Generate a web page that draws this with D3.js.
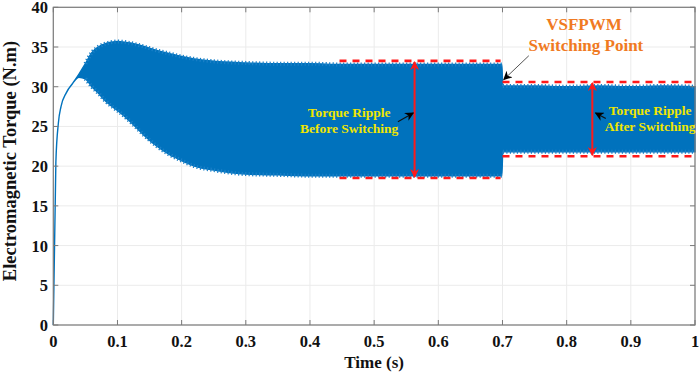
<!DOCTYPE html>
<html><head><meta charset="utf-8">
<script src="https://cdn.jsdelivr.net/npm/d3@7"></script>
<style>body{margin:0;background:#fff;}</style></head>
<body><svg id="c" width="699" height="375"></svg>
<script>
// ---- data ----
const timeS = [0,0.004,0.008,0.012,0.02,0.03,0.04,0.05,0.06,0.07,0.08,0.09,0.1,0.12,0.14,0.16,0.18,0.2,0.22,0.25,0.3,0.35,0.4,0.45,0.5,0.55,0.6,0.65,0.699,0.7005,0.75,0.8,0.85,0.9,0.95,1.0];
const torqueUpper = [0,20.5,25.5,27.5,29.2,30.4,31.6,32.9,34.3,35.0,35.4,35.6,35.7,35.5,35.1,34.6,34.2,33.8,33.5,33.2,33.0,32.9,32.9,32.8,32.8,32.8,32.8,32.8,32.8,30.1,30.1,30.0,30.1,30.0,30.1,30.0];
const torqueLower = [0,20.5,25.5,27.5,29.2,30.4,31.2,31.0,30.0,29.2,28.3,27.6,27.0,25.6,24.0,22.6,21.5,20.7,20.0,19.5,19.0,18.9,18.8,18.8,18.8,18.8,18.8,18.8,18.8,21.8,21.8,21.8,21.8,21.8,21.8,21.8];
const xTicks = [0,0.1,0.2,0.3,0.4,0.5,0.6,0.7,0.8,0.9,1];
const xTickLabels = ["0","0.1","0.2","0.3","0.4","0.5","0.6","0.7","0.8","0.9","1"];
const yTicks = [0,5,10,15,20,25,30,35,40];
const yTickLabels = ["0","5","10","15","20","25","30","35","40"];
// ripple bounds (red dashed): [t0, t1, upper, lower, arrowT]
const rippleBefore = [0.446,0.697,33.25,18.5,0.563];
const rippleAfter = [0.700,1.0,30.6,21.25,0.840];
const textBefore = ["Torque Ripple","Before Switching"];
const textAfter = ["Torque Ripple","After Switching"];
const textSwitch = ["VSFPWM","Switching Point"];

const FONT = "Liberation Serif";
const svg = d3.select("#c");
const L=53.3, R=695, T=7.3, B=325;
const x = d3.scaleLinear().domain([0,1]).range([L,R]);
const y = d3.scaleLinear().domain([0,40]).range([B,T]);

function txt(g){ return g.attr("font-family",FONT).attr("font-weight","bold"); }

// grid
svg.append("g").selectAll("line").data(xTicks).join("line")
 .attr("x1",d=>x(d)).attr("x2",d=>x(d)).attr("y1",T).attr("y2",B)
 .attr("stroke","#ebebeb").attr("stroke-width",1);
svg.append("g").selectAll("line").data(yTicks).join("line")
 .attr("y1",d=>y(d)).attr("y2",d=>y(d)).attr("x1",L).attr("x2",R)
 .attr("stroke","#ebebeb").attr("stroke-width",1);

// signal band
const pts = timeS.map((t,i)=>({t,u:torqueUpper[i],l:torqueLower[i]}));
const area = d3.area().x(d=>x(d.t)).y0(d=>y(d.l)).y1(d=>y(d.u)).curve(d3.curveMonotoneX);
const blue="#0072BD";
svg.append("path").datum(pts).attr("d",area).attr("fill",blue).attr("stroke",blue).attr("stroke-width",1.4);
// jagged edges
const up = d3.line().x(d=>x(d.t)).y(d=>y(d.u)).curve(d3.curveMonotoneX);
const lo = d3.line().x(d=>x(d.t)).y(d=>y(d.l)).curve(d3.curveMonotoneX);
const spk = pts.filter(d=>d.t>=0.045);
[up,lo].forEach(g=>{
  svg.append("path").datum(spk.filter(d=>d.t<=0.699)).attr("d",g).attr("fill","none")
   .attr("stroke","#1a80c8").attr("stroke-width",4).attr("stroke-dasharray","1.2 2.3");
  svg.append("path").datum(spk.filter(d=>d.t>=0.7005)).attr("d",g).attr("fill","none")
   .attr("stroke","#1a80c8").attr("stroke-width",4).attr("stroke-dasharray","1.2 2.3");
});

// axes box
const axisCol="#7a7a7a";
svg.append("rect").attr("x",L).attr("y",T).attr("width",R-L).attr("height",B-T)
 .attr("fill","none").attr("stroke",axisCol).attr("stroke-width",1.2);
const tl=5;
xTicks.forEach(d=>{
  svg.append("line").attr("x1",x(d)).attr("x2",x(d)).attr("y1",B).attr("y2",B-tl).attr("stroke",axisCol);
  svg.append("line").attr("x1",x(d)).attr("x2",x(d)).attr("y1",T).attr("y2",T+tl).attr("stroke",axisCol);
});
yTicks.forEach(d=>{
  svg.append("line").attr("y1",y(d)).attr("y2",y(d)).attr("x1",L).attr("x2",L+tl).attr("stroke",axisCol);
  svg.append("line").attr("y1",y(d)).attr("y2",y(d)).attr("x1",R).attr("x2",R-tl).attr("stroke",axisCol);
});
svg.append("g").selectAll("text").data(xTicks).join("text")
 .attr("x",d=>x(d)).attr("y",346.5).attr("text-anchor","middle").attr("font-size",16.5).attr("fill","#111")
 .attr("font-family",FONT).attr("font-weight","bold")
 .text((d,i)=>xTickLabels[i]);
svg.append("g").selectAll("text").data(yTicks).join("text")
 .attr("x",48).attr("y",d=>y(d)+6).attr("text-anchor","end").attr("font-size",16.5).attr("fill","#111")
 .attr("font-family",FONT).attr("font-weight","bold")
 .text((d,i)=>yTickLabels[i]);
txt(svg.append("text")).attr("x",(L+R)/2).attr("y",368).attr("text-anchor","middle").attr("font-size",17).attr("fill","#111").text("Time (s)");
txt(svg.append("text")).attr("transform","translate(16,161) rotate(-90)").attr("text-anchor","middle").attr("font-size",18.5).attr("fill","#111").text("Electromagnetic Torque (N.m)");

// defs
const defs=svg.append("defs");
function marker(id,col,w,h){
  defs.append("marker").attr("id",id).attr("viewBox","0 0 10 10").attr("refX",9).attr("refY",5)
   .attr("markerWidth",w).attr("markerHeight",h).attr("orient","auto-start-reverse").attr("markerUnits","userSpaceOnUse")
   .append("path").attr("d","M0,0 L10,5 L0,10 L3,5 z").attr("fill",col);
}
marker("ar","#ff1a1a",9,9);
marker("ab","#000",10,9);

// ripple annotation
const red="#ff1a1a";
[rippleBefore,rippleAfter].forEach(r=>{
  [r[2],r[3]].forEach(v=>{
    svg.append("line").attr("x1",x(r[0])).attr("x2",x(r[1])).attr("y1",y(v)).attr("y2",y(v))
     .attr("stroke",red).attr("stroke-width",2.6).attr("stroke-dasharray","7 6");
  });
  svg.append("line").attr("x1",x(r[4])).attr("x2",x(r[4])).attr("y1",y(r[2])+1).attr("y2",y(r[3])-1)
   .attr("stroke",red).attr("stroke-width",2).attr("marker-start","url(#ar)").attr("marker-end","url(#ar)");
});

// black pointer arrows [t0,v0,t1,v1]
const ptrBefore=[0.537,25.6,0.561,26.7];
const ptrAfter=[0.861,26.0,0.845,26.7];
const ptrSwitch=[0.741,33.9,0.702,30.9];
[ptrBefore,ptrAfter].forEach(p=>{
  svg.append("line").attr("x1",x(p[0])).attr("y1",y(p[1])).attr("x2",x(p[2])).attr("y2",y(p[3]))
   .attr("stroke","#111").attr("stroke-width",1.2).attr("marker-end","url(#ab)");
});
svg.append("line").attr("x1",x(ptrSwitch[0])).attr("y1",y(ptrSwitch[1])).attr("x2",x(ptrSwitch[2])).attr("y2",y(ptrSwitch[3]))
 .attr("stroke","#555").attr("stroke-width",1).attr("marker-end","url(#ab)");

// texts
const yellow="#f0e600";
txt(svg.append("text")).attr("x",x(0.461)).attr("y",y(26.2)).attr("text-anchor","middle").attr("font-size",13.5).attr("fill",yellow).text(textBefore[0]);
txt(svg.append("text")).attr("x",x(0.461)).attr("y",y(24.15)).attr("text-anchor","middle").attr("font-size",13.5).attr("fill",yellow).text(textBefore[1]);
txt(svg.append("text")).attr("x",x(0.93)).attr("y",y(26.5)).attr("text-anchor","middle").attr("font-size",13.5).attr("fill",yellow).text(textAfter[0]);
txt(svg.append("text")).attr("x",x(0.93)).attr("y",y(24.45)).attr("text-anchor","middle").attr("font-size",13.5).attr("fill",yellow).text(textAfter[1]);
const orange="#f07a22";
txt(svg.append("text")).attr("x",x(0.827)).attr("y",y(37.2)).attr("text-anchor","middle").attr("font-size",17).attr("fill",orange).text(textSwitch[0]);
txt(svg.append("text")).attr("x",x(0.830)).attr("y",y(34.45)).attr("text-anchor","middle").attr("font-size",17).attr("fill",orange).text(textSwitch[1]);
</script></body></html>
